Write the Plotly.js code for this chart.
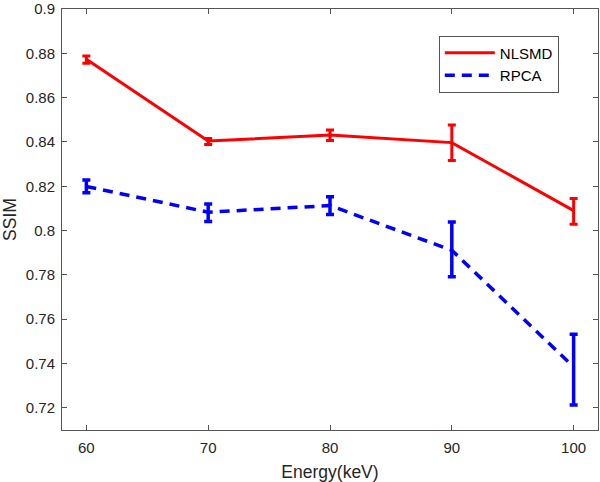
<!DOCTYPE html>
<html>
<head>
<meta charset="utf-8">
<script src="https://cdn.plot.ly/plotly-3.0.1.min.js"></script>
<style>html,body{margin:0;padding:0;background:#fff;}#chart{width:600px;height:482px;}</style>
</head>
<body>
<div id="chart"></div>
<script>
const energy = [60, 70, 80, 90, 100];
const nlsmd = [0.8773, 0.8404, 0.8431, 0.8397, 0.8090];
const nlsmdErrPlus = [0.0015, 0.0012, 0.0023, 0.0080, 0.0055];
const nlsmdErrMinus = [0.0018, 0.0015, 0.0024, 0.0081, 0.0061];
const rpca = [0.8199, 0.8083, 0.8113, 0.7911, 0.7385];
const rpcaErrPlus = [0.0029, 0.0037, 0.0040, 0.0128, 0.0147];
const rpcaErrMinus = [0.0028, 0.0042, 0.0040, 0.0119, 0.0172];
const xTicks = [60, 70, 80, 90, 100];
const yTicks = [0.72, 0.74, 0.76, 0.78, 0.8, 0.82, 0.84, 0.86, 0.88, 0.9];
const yTickText = ['0.72','0.74','0.76','0.78','0.8','0.82','0.84','0.86','0.88','0.9'];

const FONT = 'Liberation Sans, Arial, Helvetica, sans-serif';

const traces = [
  {
    x: energy, y: nlsmd, name: 'NLSMD', type: 'scatter', mode: 'lines',
    line: {color: '#ff0000', width: 3},
    error_y: {type: 'data', symmetric: false, array: nlsmdErrPlus, arrayminus: nlsmdErrMinus,
      color: '#ff0000', thickness: 3, width: 4}
  },
  {
    x: energy, y: rpca, name: 'RPCA', type: 'scatter', mode: 'lines',
    line: {color: '#0000ff', width: 3.5, dash: '10px,7px'},
    error_y: {type: 'data', symmetric: false, array: rpcaErrPlus, arrayminus: rpcaErrMinus,
      color: '#0000ff', thickness: 3.5, width: 4}
  }
];

const axisCommon = {
  showgrid: false, zeroline: false, showline: true, mirror: 'ticks',
  linecolor: '#555555', linewidth: 1, ticks: 'inside', ticklen: 5, tickwidth: 1,
  tickcolor: '#555555', ticklabeloverflow: 'allow',
  tickfont: {family: FONT, size: 15, color: '#262626'}
};

const layout = {
  width: 600, height: 482,
  margin: {l: 62, r: 2, t: 9, b: 52},
  paper_bgcolor: '#ffffff', plot_bgcolor: '#ffffff',
  showlegend: true,
  legend: {
    x: 0.703, y: 0.937, xanchor: 'left', yanchor: 'top',
    bordercolor: '#555555', borderwidth: 1, bgcolor: '#ffffff',
    font: {family: FONT, size: 15, color: '#000000'},
    itemwidth: 50, tracegroupgap: 0
  },
  xaxis: Object.assign({}, axisCommon, {
    range: [58, 102], tickvals: xTicks, ticklabelstandoff: 4,
    title: {text: 'Energy(keV)', standoff: 13,
      font: {family: FONT, size: 17.5, color: '#262626'}}
  }),
  yaxis: Object.assign({}, axisCommon, {
    range: [0.71, 0.9], tickvals: yTicks, ticktext: yTickText, ticklabelstandoff: 3,
    title: {text: 'SSIM', standoff: 6,
      font: {family: FONT, size: 17.5, color: '#262626'}}
  })
};

Plotly.newPlot('chart', traces, layout, {displayModeBar: false, staticPlot: true});
</script>
</body>
</html>
